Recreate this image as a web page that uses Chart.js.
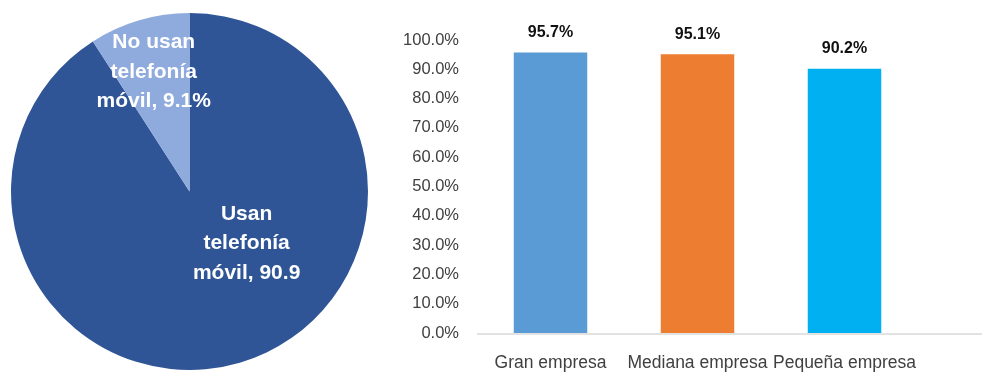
<!DOCTYPE html>
<html>
<head>
<meta charset="utf-8">
<script src="https://cdn.jsdelivr.net/npm/chart.js@4.4.1/dist/chart.umd.min.js"></script>
<style>
    body { margin: 0; background: #fff; }
    #pieBox { position: absolute; left: 0; top: 0; width: 380px; height: 372px; }
    #barBox { position: absolute; left: 380px; top: 0; width: 602px; height: 372px; }
</style>
</head>
<body>
<div id="pieBox"><canvas id="pieChart"></canvas></div>
<div id="barBox"><canvas id="barChart"></canvas></div>
<script>
// Pie data
const pieLabels = [['Usan', 'telefonía', 'móvil, 90.9'], ['No usan', 'telefonía', 'móvil, 9.1%']];
const pieValues = [90.9, 9.1];
const pieColors = ['#2F5597', '#8FAADC'];

// Bar data
const barCategories = ['Gran empresa', 'Mediana empresa', 'Pequeña empresa'];
const barValues = [95.7, 95.1, 90.2];
const barColors = ['#5B9BD5', '#ED7D31', '#00B0F0'];
const barValueLabels = ['95.7%', '95.1%', '90.2%'];

const FONT = '"Liberation Sans", Arial, sans-serif';

// Pie labels, placed relative to the arc (fractions of radius)
const pieLabelOffsets = [[0.32, 0.29], null];
const pieLabelPlugin = {
    id: 'pieLabels',
    afterDatasetsDraw(chart) {
        const ctx = chart.ctx;
        const meta = chart.getDatasetMeta(0);
        ctx.save();
        ctx.fillStyle = '#fff';
        ctx.font = 'bold 21px ' + FONT;
        ctx.textAlign = 'center';
        ctx.textBaseline = 'middle';
        meta.data.forEach((arc, i) => {
            const r = arc.outerRadius;
            let cx, cy;
            if (pieLabelOffsets[i]) {
                cx = arc.x + pieLabelOffsets[i][0] * r;
                cy = arc.y + pieLabelOffsets[i][1] * r;
            } else {
                const mid = (arc.startAngle + arc.endAngle) / 2;
                cx = arc.x + Math.cos(mid) * r * 0.71;
                cy = arc.y + Math.sin(mid) * r * 0.71 + 2;
            }
            const lines = pieLabels[i];
            lines.forEach((line, j) => {
                ctx.fillText(line, cx, cy + (j - (lines.length - 1) / 2) * 29.5);
            });
        });
        ctx.restore();
    }
};

new Chart(document.getElementById('pieChart'), {
    type: 'pie',
    data: {
        labels: pieLabels.map(l => l.join(' ')),
        datasets: [{
            data: pieValues,
            backgroundColor: pieColors,
            borderWidth: 0
        }]
    },
    options: {
        responsive: true,
        maintainAspectRatio: false,
        animation: false,
        layout: { padding: { left: 11, right: 12, top: 13, bottom: 2 } },
        plugins: { legend: { display: false }, tooltip: { enabled: false } }
    },
    plugins: [pieLabelPlugin]
});

// Bar value labels + baseline
const barExtras = {
    id: 'barExtras',
    beforeDatasetsDraw(chart) {
        const ctx = chart.ctx;
        const y = chart.scales.y.getPixelForValue(0);
        ctx.save();
        ctx.strokeStyle = '#D9D9D9';
        ctx.lineWidth = 1.5;
        ctx.beginPath();
        ctx.moveTo(chart.chartArea.left, y + 1);
        ctx.lineTo(chart.width, y + 1);
        ctx.stroke();
        ctx.restore();
    },
    afterDatasetsDraw(chart) {
        const ctx = chart.ctx;
        const meta = chart.getDatasetMeta(0);
        ctx.save();
        ctx.fillStyle = '#111';
        ctx.font = 'bold 16px ' + FONT;
        ctx.textAlign = 'center';
        ctx.textBaseline = 'middle';
        meta.data.forEach((bar, i) => {
            ctx.fillText(barValueLabels[i], bar.x, bar.y - 20);
        });
        ctx.restore();
    }
};

new Chart(document.getElementById('barChart'), {
    type: 'bar',
    data: {
        labels: barCategories,
        datasets: [{
            data: barValues,
            backgroundColor: barColors,
            borderWidth: 0,
            barPercentage: 0.5,
            categoryPercentage: 1
        }]
    },
    options: {
        responsive: true,
        maintainAspectRatio: false,
        animation: false,
        layout: { padding: { left: 0, right: 64, top: 40, bottom: 0 } },
        plugins: { legend: { display: false }, tooltip: { enabled: false } },
        scales: {
            x: {
                grid: { display: false },
                border: { display: false },
                ticks: { color: '#404040', font: { family: FONT, size: 17.5 }, padding: 12, maxRotation: 0, autoSkip: false },
                afterFit(scale) { scale.height = 39; }
            },
            y: {
                min: 0,
                max: 100,
                grid: { display: false },
                border: { display: false },
                ticks: {
                    stepSize: 10,
                    color: '#404040',
                    font: { family: FONT, size: 16.5 },
                    padding: 10,
                    callback: v => v.toFixed(1) + '%'
                },
                afterFit(scale) { scale.width = 97; }
            }
        }
    },
    plugins: [barExtras]
});
</script>
</body>
</html>
